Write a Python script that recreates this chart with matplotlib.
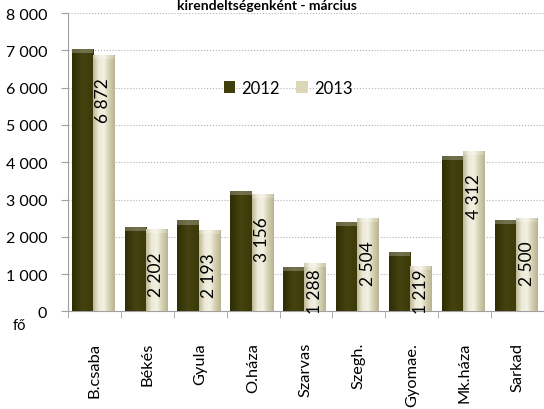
import numpy as np
import matplotlib.pyplot as plt
from matplotlib.colors import LinearSegmentedColormap

# data
categories = ['B.csaba', 'Békés', 'Gyula', 'O.háza', 'Szarvas', 'Szegh.',
              'Gyomae.', 'Mk.háza', 'Sarkad']
y2012 = [7040, 2275, 2440, 3225, 1200, 2400, 1590, 4160, 2465]
y2013 = [6872, 2202, 2193, 3156, 1288, 2504, 1219, 4312, 2500]
series = ['2012', '2013']
yticks = [0, 1000, 2000, 3000, 4000, 5000, 6000, 7000, 8000]


def fmt(v):
    return '{:,}'.format(v).replace(',', ' ')


plt.rcParams['font.family'] = ['Lato', 'DejaVu Sans']

fig = plt.figure(figsize=(5.44, 4.10), dpi=100)
ax = fig.add_axes([0.125, 0.238, 0.875, 0.7276])

x = np.arange(len(categories))
w = 0.4
dark = LinearSegmentedColormap.from_list('d', ['#2f2e05', '#454410', '#3a3908'])
light = LinearSegmentedColormap.from_list('l', ['#bdb795', '#ece9d6', '#f3f1e4', '#d4cfae', '#b9b393'])
grad = np.linspace(0, 1, 64).reshape(1, -1)

b1 = ax.bar(x - w / 2 - 0.03, y2012, w, color='#3f3e0c', label=series[0], zorder=3)
b2 = ax.bar(x + w / 2 - 0.03, y2013, w, color='#dcd7b8', label=series[1], zorder=3)

# shaded fill for the bars
for bars, cmap in ((b1, dark), (b2, light)):
    for r in bars:
        x0, y0 = r.get_x(), r.get_y()
        im = ax.imshow(grad, cmap=cmap, aspect='auto', zorder=3.5,
                       extent=[x0, x0 + r.get_width(), y0, y0 + r.get_height()])
        im.set_clip_path(r)
        # lighter top cap
        ax.fill_between([x0, x0 + r.get_width()], y0 + r.get_height() - 110,
                        y0 + r.get_height(), color='white', alpha=0.25,
                        lw=0, zorder=3.6)

# value labels for 2013
for xi, v in zip(x, y2013):
    ypos = max(v - 600, 1150)
    ax.text(xi + w / 2 - 0.03, ypos, fmt(v), rotation=90, ha='center', va='top',
            fontsize=12.5, color='black', zorder=5)

ax.set_xlim(-0.5, len(categories) - 0.5)
ax.set_ylim(0, 8000)
ax.set_yticks(yticks)
ax.set_yticklabels([fmt(t) for t in yticks], fontsize=11.5)
ax.set_xticks(x)
ax.set_xticklabels(categories, rotation=90, fontsize=11.8)
ax.set_xticks(np.arange(len(categories) + 1) - 0.5, minor=True)
ax.tick_params(axis='x', which='major', length=0, pad=22)
ax.tick_params(axis='x', which='minor', length=5, color='#a0a0a0')
ax.tick_params(axis='y', length=5, color='#a0a0a0', pad=10)

for s in ('top', 'right'):
    ax.spines[s].set_visible(False)
for s in ('left', 'bottom'):
    ax.spines[s].set_color('#a0a0a0')
ax.grid(axis='y', linestyle=':', color='#b0b0b0', linewidth=0.8, zorder=0)
ax.set_axisbelow(True)

ax.legend(loc='center', bbox_to_anchor=(0.462, 0.749), ncol=2, frameon=False,
          fontsize=12, handlelength=0.7, handleheight=0.7, columnspacing=1.0,
          handletextpad=0.35)

fig.text(0.49, 1.0, 'kirendeltségenként - március', ha='center', va='top',
         fontsize=10, fontweight='bold')
fig.text(0.035, 0.205, 'fő', fontsize=10.5, ha='center', va='center')

fig.savefig('out.png', dpi=100)
